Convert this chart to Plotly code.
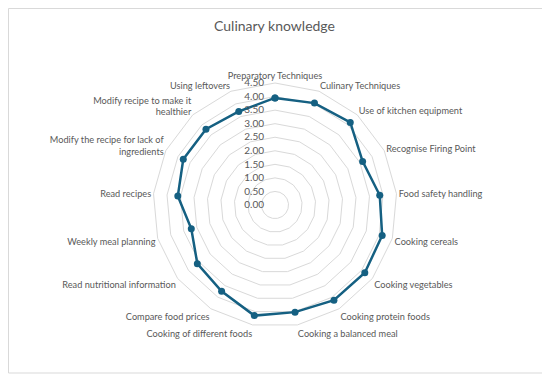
import plotly.graph_objects as go

categories = [
    "Preparatory Techniques",
    "Culinary Techniques",
    "Use of kitchen equipment",
    "Recognise Firing Point",
    "Food safety handling",
    "Cooking cereals",
    "Cooking vegetables",
    "Cooking protein foods",
    "Cooking a balanced meal",
    "Cooking of different foods",
    "Compare food prices",
    "Read nutritional information",
    "Weekly meal planning",
    "Read recipes",
    "Modify the recipe for lack of<br>ingredients",
    "Modify recipe to make it<br>healthier",
    "Using leftovers",
]
values = [3.95, 4.03, 4.12, 3.61, 3.88, 4.11, 4.15, 4.13, 4.02, 4.15,
          3.74, 3.59, 3.21, 3.60, 3.78, 3.78, 3.70]
radial_ticks = [0, 0.5, 1, 1.5, 2, 2.5, 3, 3.5, 4, 4.5]

color = "#156082"
grey = "#595959"
grid = "#d9d9d9"
font = "Lato"

W, H = 542, 370  # page is offset by the 8px body margin

fig = go.Figure()
fig.add_trace(go.Scatterpolar(
    r=values + values[:1],
    theta=categories + categories[:1],
    mode="lines+markers",
    line=dict(color=color, width=2.5),
    marker=dict(color=color, size=7),
    showlegend=False,
))

cx, cy, R = 267, 197, 122

fig.update_layout(
    width=W, height=H,
    margin=dict(l=0, r=0, t=0, b=0),
    paper_bgcolor="white",
    plot_bgcolor="white",
    font=dict(family=font, color=grey, size=10),
    title=dict(text="Culinary knowledge", x=266.5 / W, xanchor="center",
               y=1 - 18 / H, yanchor="middle",
               font=dict(family=font, size=14, color=grey)),
    polar=dict(
        domain=dict(x=[(cx - R) / W, (cx + R) / W],
                    y=[1 - (cy + R) / H, 1 - (cy - R) / H]),
        bgcolor="white",
        gridshape="linear",
        radialaxis=dict(
            range=[0, 4.5], tickvals=radial_ticks, tickformat=".2f",
            angle=90, side="counterclockwise", tickangle=90,
            showline=False, ticks="outside", ticklen=7,
            tickcolor="rgba(0,0,0,0)", gridcolor=grid, gridwidth=1,
            tickfont=dict(size=10, color=grey, family=font),
        ),
        angularaxis=dict(
            direction="clockwise", rotation=90,
            showgrid=False, showline=True, linecolor=grid, linewidth=1,
            ticks="", tickfont=dict(size=9.2, color=grey, family=font),
        ),
    ),
    shapes=[dict(type="rect", xref="paper", yref="paper",
                 x0=0.5 / W, x1=535 / W, y0=1 - 365 / H, y1=1 - 0.5 / H,
                 line=dict(color="#d9d9d9", width=1), layer="below")],
)

fig.write_html("out.html")
